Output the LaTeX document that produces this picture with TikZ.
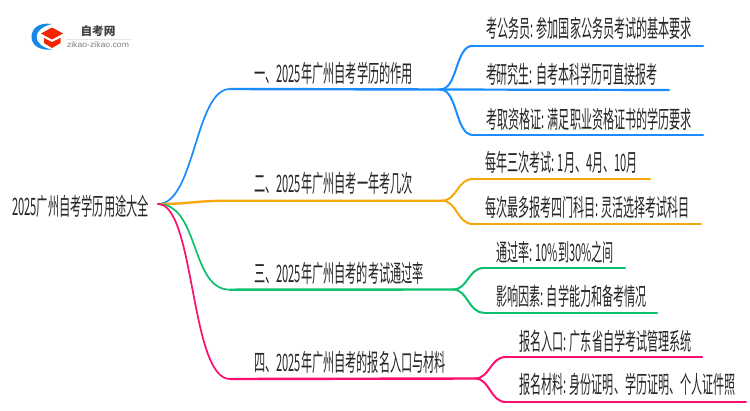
\documentclass[tikz,border=0pt]{standalone}
\usepackage{fontspec}
\usepackage{graphicx}
\setmainfont{Noto Sans CJK SC}
\newfontfamily\latinlogo{Liberation Sans}
\newcommand{\fitw}[2]{\resizebox{#1pt}{\height}{#2}}
\definecolor{cblue}{HTML}{1A8CFF}
\definecolor{corange}{HTML}{F5A90F}
\definecolor{cgreen}{HTML}{0CC06E}
\definecolor{cpink}{HTML}{FB0F71}
\definecolor{ctext}{HTML}{262626}
\tikzset{
  lbl/.style={anchor=west,inner sep=0pt,outer sep=0pt,text=ctext,font=\fontsize{24}{25}\selectfont},
  curveline/.style={line width=1.7pt,line cap=round},
  stem/.style={line width=2.4pt,line cap=round},
  leafline/.style={line width=2.2pt,line cap=round},
  fork/.style={line width=2pt,line cap=round}
}
\begin{document}
\begin{tikzpicture}[x=1pt,y=-1pt]
\useasboundingbox (0,0) rectangle (750,410);
% logo
\fill[white] (0,0) rectangle (750,410);
\fill[cblue!80!teal] (52,24) .. controls (38,22) and (31.5,29) .. (31.5,37) .. controls (31.5,44) and (38,51) .. (52,49.5) .. controls (43,48) and (36.5,43) .. (36.5,37) .. controls (36.5,31) and (43,26) .. (52,24) -- cycle;
\fill[red!70!orange!95!black] (52,27.5) -- (63,33.5) -- (52,39.5) -- (41,33.5) -- cycle;
\fill[red!70!orange!95!black] (44,38) -- (52,42) -- (60.5,38) -- (60.5,43) -- (52,48) -- (44,43) -- cycle;
\node[inner sep=0pt,text=black!75,font=\bfseries\fontsize{11.5}{12}\selectfont] (logot) at (98,31) {\fitw{35}{自考网}};
\node[inner sep=0pt,text=black!50,font=\latinlogo\fontsize{8}{9}\selectfont] (logos) at (98,45) {\fitw{62}{zikao-zikao.com}};
\fill[black!10] (66,38.7) rectangle (131,39.5);
% text nodes
\node[lbl] (root) at (12,206) {\fitw{137}{2025广州自考学历用途大全}};
\node[lbl] (m1) at (254,73) {\fitw{159}{一、2025年广州自考学历的作用}};
\node[lbl] (m2) at (254,183) {\fitw{159}{二、2025年广州自考一年考几次}};
\node[lbl] (m3) at (254,273) {\fitw{170}{三、2025年广州自考的考试通过率}};
\node[lbl] (m4) at (254,362) {\fitw{192}{四、2025年广州自考的报名入口与材料}};
\node[lbl] (a1) at (486,28) {\fitw{206}{考公务员: 参加国家公务员考试的基本要求}};
\node[lbl] (a2) at (486,74) {\fitw{171}{考研究生: 自考本科学历可直接报考}};
\node[lbl] (a3) at (486,119) {\fitw{206}{考取资格证: 满足职业资格证书的学历要求}};
\node[lbl] (b1) at (485,162) {\fitw{153}{每年三次考试: 1月、4月、10月}};
\node[lbl] (b2) at (485,207) {\fitw{205}{每次最多报考四门科目: 灵活选择考试科目}};
\node[lbl] (c1) at (496,252) {\fitw{118}{通过率: 10\%到30\%之间}};
\node[lbl] (c2) at (496,296) {\fitw{151}{影响因素: 自学能力和备考情况}};
\node[lbl] (d1) at (519,341) {\fitw{173}{报名入口: 广东省自学考试管理系统}};
\node[lbl] (d2) at (519,384) {\fitw{217}{报名材料: 身份证明、学历证明、个人证件照}};
% junctions
\coordinate (o) at (158,204);
\coordinate (s1) at (230,89);   \coordinate (j1) at (440,89.5);
\coordinate (s2) at (230,200.7);\coordinate (j2) at (442,200.7);
\coordinate (s3) at (230,289.7);\coordinate (j3) at (453,289.5);
\coordinate (s4) at (230,379);  \coordinate (j4) at (475,378.5);
\coordinate (a1s) at (473,45.7);\coordinate (a1e) at (703,45.7);
\coordinate (a2e) at (669,90);
\coordinate (a3s) at (473,135); \coordinate (a3e) at (703,135);
\coordinate (b1s) at (473,179); \coordinate (b1e) at (650,179);
\coordinate (b2s) at (473,224); \coordinate (b2e) at (701,224);
\coordinate (c1s) at (484,268); \coordinate (c1e) at (625,268);
\coordinate (c2s) at (484,312.7);\coordinate (c2e) at (657,312.7);
\coordinate (d1s) at (506,357); \coordinate (d1e) at (702,357);
\coordinate (d2s) at (506,402); \coordinate (d2e) at (746,402);
% blue
\draw[cblue,curveline] (o) .. controls (195,204) and (195,89) .. (s1);
\draw[cblue,stem] (s1) -- (j1);
\draw[cblue,fork] (j1) .. controls (458,89.5) and (455,45.7) .. (a1s);
\draw[cblue,leafline] (a1s) -- (a1e);
\draw[cblue,leafline] (j1) -- (a2e);
\draw[cblue,fork] (j1) .. controls (458,89.5) and (455,135) .. (a3s);
\draw[cblue,leafline] (a3s) -- (a3e);
% orange
\draw[corange,stem] (o) .. controls (190,204) and (195,200.7) .. (s2) -- (j2);
\draw[corange,fork] (j2) .. controls (457,200.7) and (457,179) .. (b1s);
\draw[corange,leafline] (b1s) -- (b1e);
\draw[corange,fork] (j2) .. controls (457,200.7) and (457,224) .. (b2s);
\draw[corange,leafline] (b2s) -- (b2e);
% green
\draw[cgreen,curveline] (o) .. controls (200,204) and (190,289.7) .. (s3);
\draw[cgreen,stem] (s3) -- (j3);
\draw[cgreen,fork] (j3) .. controls (468,289.5) and (468,268) .. (c1s);
\draw[cgreen,leafline] (c1s) -- (c1e);
\draw[cgreen,fork] (j3) .. controls (468,289.5) and (468,312.7) .. (c2s);
\draw[cgreen,leafline] (c2s) -- (c2e);
% pink
\draw[cpink,curveline] (o) .. controls (195,204) and (190,379) .. (s4);
\draw[cpink,stem] (s4) -- (j4);
\draw[cpink,fork] (j4) .. controls (490,378.5) and (490,357) .. (d1s);
\draw[cpink,leafline] (d1s) -- (d1e);
\draw[cpink,fork] (j4) .. controls (490,378.5) and (490,402) .. (d2s);
\draw[cpink,leafline] (d2s) -- (d2e);
\end{tikzpicture}
\end{document}
